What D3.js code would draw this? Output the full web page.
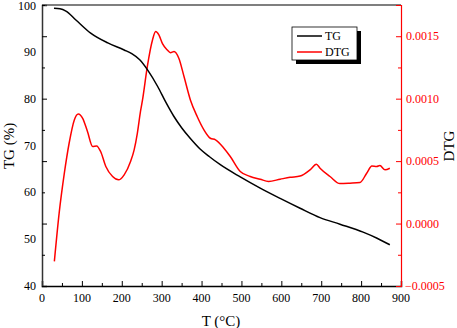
<!DOCTYPE html>
<html>
<head>
<meta charset="utf-8">
<script src="https://cdn.jsdelivr.net/npm/d3@7"></script>
<style>
  body { margin: 0; background: #fff; }
  text { font-family: "Liberation Serif", "Times New Roman", serif; }
</style>
</head>
<body>
<div id="chart"></div>
<script>
// data
let tgTemp = [30, 45, 60, 85, 122, 165, 206, 225, 245, 265, 290, 310, 330, 350, 372, 397, 420, 447, 497, 547, 597, 647, 697, 747, 805, 840, 872]
let tgVal  = [99.3, 99.2, 98.7, 96.8, 94.0, 91.9, 90.4, 89.6, 88.3, 86.1, 82.6, 79.3, 76.3, 73.8, 71.5, 69.2, 67.6, 65.9, 63.3, 60.9, 58.7, 56.6, 54.6, 53.2, 51.5, 50.2, 48.8]

let dtgTemp = [31, 43, 56, 68, 81, 91, 102, 114, 127, 137, 147, 160, 177, 192, 206, 222, 231, 239, 247, 252, 264, 277, 285, 293, 302, 314, 322, 331, 343, 356, 372, 389, 406, 422, 435, 456, 472, 497, 522, 547, 568, 597, 622, 647, 672, 688, 697, 722, 747, 772, 797, 814, 827, 839, 847, 860, 872]
let dtgVal  = [-0.000303, 0.000083, 0.000403, 0.000643, 0.00083, 0.000878, 0.000843, 0.000737, 0.000617, 0.000622, 0.000577, 0.000457, 0.000377, 0.00035, 0.00039, 0.000497, 0.00059, 0.000723, 0.0009, 0.00099, 0.001257, 0.00147, 0.001537, 0.00151, 0.00144, 0.00139, 0.001368, 0.001377, 0.001323, 0.001177, 0.00099, 0.000857, 0.00075, 0.000683, 0.00067, 0.000603, 0.000537, 0.000417, 0.000377, 0.000355, 0.000337, 0.000355, 0.00037, 0.00038, 0.00043, 0.000475, 0.000443, 0.000377, 0.00032, 0.000323, 0.000328, 0.000403, 0.00046, 0.000457, 0.000465, 0.00043, 0.000443]

let xTicks = [0, 100, 200, 300, 400, 500, 600, 700, 800, 900]
let tgTicks = [40, 50, 60, 70, 80, 90, 100]
let dtgTicks = [-0.0005, 0.0000, 0.0005, 0.0010, 0.0015]
let dtgMinor = [-0.00025, 0.00025, 0.00075, 0.00125, 0.00175]

let W = 457, H = 328
let pLeft = 42, pRight = 401, pTop = 5, pBottom = 286

let svg = d3.select('#chart').append('svg')
    .attr('width', W)
    .attr('height', H)

let x = d3.scaleLinear().domain([0, 900]).range([pLeft, pRight])
let yL = d3.scaleLinear().domain([40, 100]).range([pBottom, pTop])
let yR = d3.scaleLinear().domain([-0.0005, 0.00175]).range([pBottom, pTop])

// top border
svg.append('line')
    .attr('x1', pLeft).attr('x2', pRight)
    .attr('y1', pTop).attr('y2', pTop)
    .attr('stroke', '#000').attr('stroke-width', 1.2)

// bottom axis, ticks pointing in
let xAx = svg.append('g')
    .attr('transform', `translate(0,${pBottom})`)
    .call(d3.axisBottom(x).tickValues(xTicks).tickSize(-5).tickFormat(''))
xAx.select('.domain').attr('stroke', '#000').attr('stroke-width', 1.5)
svg.append('g')
    .attr('transform', `translate(0,${pBottom})`)
    .call(d3.axisBottom(x).tickValues(d3.range(50, 900, 100)).tickSize(-3).tickFormat(''))
    .select('.domain').remove()
svg.append('g').selectAll('text')
    .data(xTicks)
    .join('text')
    .attr('x', d => x(d))
    .attr('y', 302)
    .attr('text-anchor', 'middle')
    .attr('font-size', 12)
    .text(d => d)

// left axis: ticks sit on the DTG grid, labels on the TG scale
let lAx = svg.append('g')
    .attr('transform', `translate(${pLeft},0)`)
    .call(d3.axisLeft(yR).tickValues(dtgTicks).tickSize(-5).tickFormat(''))
lAx.select('.domain').attr('stroke', '#333').attr('stroke-width', 1.5)
svg.append('g')
    .attr('transform', `translate(${pLeft},0)`)
    .call(d3.axisLeft(yR).tickValues(dtgMinor).tickSize(-3).tickFormat(''))
    .select('.domain').remove()
svg.append('g').selectAll('text')
    .data(tgTicks)
    .join('text')
    .attr('x', 36)
    .attr('y', d => Math.max(yL(d) + 4, 10))
    .attr('text-anchor', 'end')
    .attr('font-size', 12)
    .text(d => d)

// right axis (red)
let rAx = svg.append('g')
    .attr('transform', `translate(${pRight},0)`)
    .call(d3.axisRight(yR).tickValues(dtgTicks).tickSize(-5).tickFormat(''))
rAx.select('.domain').attr('stroke', '#f00').attr('stroke-width', 1.2)
rAx.selectAll('line').attr('stroke', '#f00')
svg.append('g')
    .attr('transform', `translate(${pRight},0)`)
    .call(d3.axisRight(yR).tickValues(dtgMinor.slice(0, 4)).tickSize(-3).tickFormat(''))
    .call(g => g.select('.domain').remove())
    .selectAll('line').attr('stroke', '#f00')
svg.append('g').selectAll('text')
    .data(dtgTicks)
    .join('text')
    .attr('x', d => d < 0 ? 405 : 406)
    .attr('y', d => yR(d) + 4)
    .attr('font-size', 12)
    .attr('fill', '#f00')
    .text(d => d3.format('.4f')(d))

// axis titles
svg.append('text')
    .attr('x', 221).attr('y', 326)
    .attr('text-anchor', 'middle')
    .attr('font-size', 15)
    .text('T (°C)')
svg.append('text')
    .attr('transform', 'translate(14,146) rotate(-90)')
    .attr('text-anchor', 'middle')
    .attr('font-size', 15)
    .text('TG (%)')
svg.append('text')
    .attr('transform', 'translate(454,146) rotate(-90)')
    .attr('text-anchor', 'middle')
    .attr('font-size', 15)
    .text('DTG')

// curves
let tgLine = d3.line()
    .x((d, i) => x(tgTemp[i]))
    .y(d => yL(d))
    .curve(d3.curveMonotoneX)
let dtgLine = d3.line()
    .x((d, i) => x(dtgTemp[i]))
    .y(d => yR(d))
    .curve(d3.curveMonotoneX)

svg.append('path')
    .attr('d', dtgLine(dtgVal))
    .attr('fill', 'none')
    .attr('stroke', '#f00')
    .attr('stroke-width', 1.5)
svg.append('path')
    .attr('d', tgLine(tgVal))
    .attr('fill', 'none')
    .attr('stroke', '#000')
    .attr('stroke-width', 1.5)

// legend with drop shadow
let lg = svg.append('g').attr('transform', 'translate(292,27)')
lg.append('rect').attr('x', 4).attr('y', 4).attr('width', 65).attr('height', 33).attr('fill', '#000')
lg.append('rect').attr('width', 65).attr('height', 33).attr('fill', '#fff').attr('stroke', '#000').attr('stroke-width', 0.8)
let items = [['TG', '#000'], ['DTG', '#f00']]
items.forEach((it, i) => {
    lg.append('line')
        .attr('x1', 5).attr('x2', 30)
        .attr('y1', 9 + i * 16).attr('y2', 9 + i * 16)
        .attr('stroke', it[1]).attr('stroke-width', 1.5)
    lg.append('text')
        .attr('x', 33).attr('y', 13 + i * 16)
        .attr('font-size', 12)
        .text(it[0])
})
</script>
</body>
</html>
